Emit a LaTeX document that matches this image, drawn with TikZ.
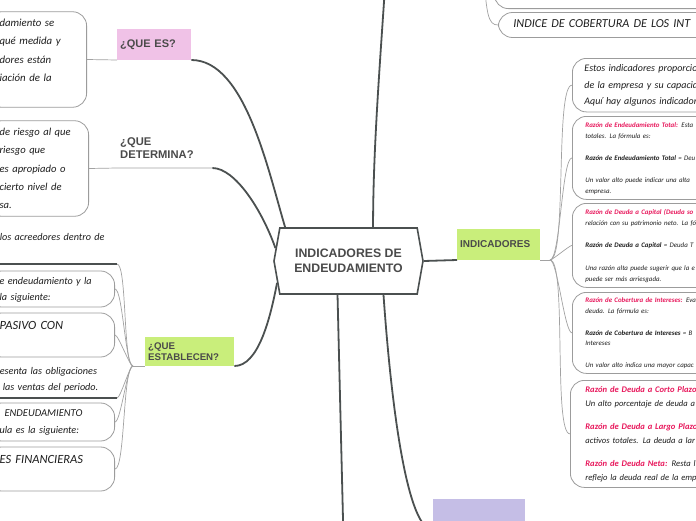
\documentclass[tikz,border=0pt]{standalone}
\usepackage{fontspec}
\setmainfont{Liberation Sans}
\newfontfamily\hand{Carlito}
\usepackage{xcolor}
\usepackage{tikz}
\usetikzlibrary{positioning,shapes.symbols}

\definecolor{branchgray}{HTML}{4B5050}
\definecolor{twiggray}{HTML}{A2A2A2}
\definecolor{leafgray}{HTML}{9C9C9C}
\definecolor{titlegray}{HTML}{4A4A4A}
\definecolor{inkblack}{HTML}{1E1E1E}
\definecolor{pinkfill}{HTML}{F0C2E7}
\definecolor{greenfill}{HTML}{C9EE7B}
\definecolor{purplefill}{HTML}{C5BEE6}
\definecolor{hotpink}{HTML}{E8185C}

\newcommand{\hw}[2]{\hand\itshape\fontsize{#1}{#2}\selectfont}
\newcommand{\lbl}[1]{\textcolor{hotpink}{\bfseries #1}}
\newcommand{\rowtxt}[1]{\mbox{\strut#1}}

\begin{document}
\begin{tikzpicture}[x=1pt, y=-1pt,
    core/.style={signal, signal to=west and east, signal pointer angle=160,
                 draw=branchgray, line width=1.6pt, fill=white,
                 minimum width=149pt, minimum height=66pt, inner sep=0pt,
                 align=center, text=titlegray,
                 font=\bfseries\fontsize{12.3}{15}\selectfont},
    topic/.style={inner xsep=3pt, inner ysep=0pt, align=left, text=titlegray,
                  anchor=south west},
    leaf/.style={draw=leafgray, line width=0.8pt, rounded corners=14pt, fill=white,
                 inner xsep=12pt, inner ysep=2pt, align=left, text=inkblack},
    note/.style={inner xsep=14pt, inner ysep=0pt, align=left, text=inkblack},
    branch/.style={draw=branchgray, line width=1.8pt},
    twig/.style={draw=twiggray, line width=0.7pt},
    underl/.style={draw=branchgray, line width=1.4pt}
]
\useasboundingbox (0,0) rectangle (696,520);
\clip (0,0) rectangle (696,520);
\fill[white] (0,0) rectangle (696,520);

% centre
\node[core] (core) at (348.5,261) {INDICADORES DE\\ENDEUDAMIENTO};

% main topics
\node[topic, fill=pinkfill, text width=68pt, minimum height=31pt,
      font=\bfseries\fontsize{11}{13}\selectfont] (ques) at (117,60) {¿QUE ES?};
\node[topic, text width=89pt, minimum height=39pt,
      font=\bfseries\fontsize{11.2}{13}\selectfont] (qdet) at (117,168) {¿QUE\\DETERMINA?};
\node[topic, fill=greenfill, text width=83pt, minimum height=29pt,
      font=\bfseries\fontsize{9.7}{11}\selectfont] (qest) at (145,366) {¿QUE\\ESTABLECEN?};
\node[topic, fill=greenfill, text width=77pt, minimum height=31pt,
      font=\bfseries\fontsize{10}{12}\selectfont] (indic) at (457,260) {INDICADORES};
\node[topic, fill=purplefill, text width=86pt, minimum height=31pt] (lowtopic) at (433,530) {};
\coordinate (upper) at (388,-60);
\coordinate (lowend) at (344,560);

% left leaves
\node[leaf, anchor=east, text width=75pt, font=\hw{10.8}{18.3}] (esleaf) at (87,59.5)
  {\rowtxt{damiento se}\\\rowtxt{qué medida y}\\\rowtxt{dores están}\\\rowtxt{iación de la}\\\rowtxt{}};
\node[leaf, anchor=east, text width=77pt, font=\hw{10.6}{18.3}] (detleaf) at (89,168.5)
  {\rowtxt{de riesgo al que}\\\rowtxt{riesgo que}\\\rowtxt{es apropiado o}\\\rowtxt{cierto nivel de}\\\rowtxt{sa.}};

\node[note, anchor=south east, text width=103pt, font=\hw{10.2}{18}] (acree) at (117,264)
  {\rowtxt{los acreedores dentro de}\\\rowtxt{}};
\node[leaf, anchor=east, text width=103pt, font=\hw{10.2}{16}] (ratio) at (115,289)
  {\rowtxt{e endeudamiento y la}\\\rowtxt{la siguiente:}};
\node[leaf, anchor=east, text width=103pt, minimum height=44pt, font=\hw{12.5}{18}] (pasivo) at (115,335)
  {\rowtxt{PASIVO CON}\\\rowtxt{}};
\node[note, anchor=south east, text width=103pt, inner ysep=3pt, font=\hw{10.2}{16}] (oblig) at (117,398)
  {\rowtxt{esenta las obligaciones}\\\rowtxt{\hspace*{3pt}las ventas del periodo.}};
\node[leaf, anchor=east, text width=103pt, minimum height=38pt, font=\hw{10.2}{17}] (endeu) at (115,422)
  {\rowtxt{\hspace*{5pt}{\fontsize{10.5}{17}\selectfont ENDEUDAMIENTO}}\\\rowtxt{ula es la siguiente:}};
\node[leaf, anchor=east, text width=103pt, minimum height=44pt, font=\hw{12.5}{18}] (finan) at (115,469)
  {\rowtxt{ES FINANCIERAS}\\\rowtxt{}};
\coordinate (lhub) at (133,366);

% right leaves
\node[leaf, anchor=north west, text width=200pt, minimum height=52pt, font=\hw{10}{16.5}] (estos) at (572,58)
  {\rowtxt{Estos indicadores proporcion}\\\rowtxt{de la empresa y su capacid}\\\rowtxt{Aquí hay algunos indicadore}};
\node[leaf, anchor=north west, text width=200pt, minimum height=83pt, inner xsep=13pt, font=\hw{6.9}{11}] (total) at (572,116)
  {\rowtxt{\lbl{Razón de Endeudamiento Total:} Esta}\\
   \rowtxt{totales. La fórmula es:}\\
   \rowtxt{}\\
   \rowtxt{\textbf{Razón de Endeudamiento Total} = Deu}\\
   \rowtxt{}\\
   \rowtxt{Un valor alto puede indicar una alta}\\
   \rowtxt{empresa.}};
\node[leaf, anchor=north west, text width=200pt, minimum height=84pt, inner xsep=13pt, font=\hw{6.9}{11.2}] (capital) at (572,203)
  {\rowtxt{\lbl{Razón de Deuda a Capital (Deuda so}}\\
   \rowtxt{relación con su patrimonio neto. La fó}\\
   \rowtxt{}\\
   \rowtxt{\textbf{Razón de Deuda a Capital} = Deuda T}\\
   \rowtxt{}\\
   \rowtxt{Una razón alta puede sugerir que la e}\\
   \rowtxt{puede ser más arriesgada.}};
\node[leaf, anchor=north west, text width=200pt, minimum height=81pt, inner xsep=13pt, font=\hw{6.9}{10.8}] (cobert) at (572,292)
  {\rowtxt{\lbl{Razón de Cobertura de Intereses:} Eva}\\
   \rowtxt{deuda. La fórmula es:}\\
   \rowtxt{}\\
   \rowtxt{\textbf{Razón de Cobertura de Intereses} = B}\\
   \rowtxt{Intereses}\\
   \rowtxt{}\\
   \rowtxt{Un valor alto indica una mayor capac}};
\node[leaf, anchor=north west, text width=200pt, minimum height=107pt, inner xsep=15pt, font=\hw{8.6}{14}] (plazos) at (570,380)
  {\rowtxt{\lbl{Razón de Deuda a Corto Plazo.}}\\
   \rowtxt{Un alto porcentaje de deuda a}\\[9pt]
   \rowtxt{\lbl{Razón de Deuda a Largo Plazo.}}\\
   \rowtxt{activos totales. La deuda a lar}\\[9pt]
   \rowtxt{\lbl{Razón de Deuda Neta:} Resta l}\\
   \rowtxt{reflejo la deuda real de la emp}};
\coordinate (rhub) at (550,260);

% top right leaves
\node[leaf, anchor=west, text width=200pt, minimum height=25pt, inner xsep=15pt, font=\hw{12.2}{14}] (indice) at (498,25)
  {\rowtxt{INDICE DE COBERTURA DE LOS INT}};
\node[leaf, anchor=south west, minimum width=260pt, minimum height=40pt] (abovebox) at (494,9) {};
\coordinate (thub) at (483,-40);

% branches
\draw[branch] (ques.south east) .. controls (245,60) and (268,170) .. (core.152);
\draw[branch] (qdet.south east) .. controls (235,168) and (262,210) .. (core.170);
\draw[branch] (qest.south east) .. controls (258,366) and (270,320) .. (core.197);
\draw[branch] (core.54) .. controls (373,140) and (382,40) .. (upper);
\draw[branch] (core.east) -- (indic.south west);
\draw[branch] (core.252) -- (lowend);
\draw[branch] (core.316) .. controls (386,330) and (400,530) .. (lowtopic.south west);

% twigs
\draw[twig] (esleaf.east) -- (ques.south west);
\draw[twig] (detleaf.east) -- (qdet.south west) -- (qdet.south east);
\draw[twig] (lhub) -- (qest.south west);
\foreach \leaf in {acree.south east, ratio.east, pasivo.east, oblig.south east, endeu.east, finan.east}
  \draw[twig] (lhub) to[out=180, in=0, looseness=0.25] (\leaf);
\draw[underl] (acree.south west) -- (acree.south east);
\draw[underl] (oblig.south west) -- (oblig.south east);
\draw[twig] (indic.south east) -- (rhub);
\foreach \leaf in {estos, total, capital, cobert, plazos}
  \draw[twig] (rhub) to[out=0, in=180, looseness=0.25] (\leaf.west);
\draw[twig] (thub) .. controls (486,15) and (488,25) .. (indice.west);
\draw[twig] (thub) .. controls (486,-15) and (488,-11) .. (abovebox.west);
\end{tikzpicture}
\end{document}
